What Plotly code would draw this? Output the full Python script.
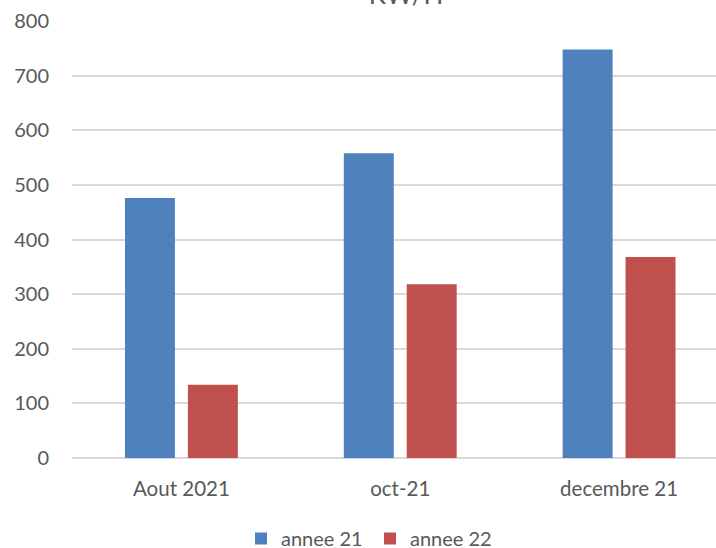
import plotly.graph_objects as go

categories = ["Aout 2021", "oct-21", "decembre 21"]
annee21 = [476, 558, 748]
annee22 = [134, 318, 368]
series_names = ["annee 21", "annee 22"]
y_ticks = [0, 100, 200, 300, 400, 500, 600, 700, 800]

W, H = 716, 548
FONT = "Lato"
GREY = "#595959"

fig = go.Figure()
fig.add_trace(go.Bar(x=categories, y=annee21, name=series_names[0],
                     marker=dict(color="#4F81BD", line=dict(width=0))))
fig.add_trace(go.Bar(x=categories, y=annee22, name=series_names[1],
                     marker=dict(color="#C0504D", line=dict(width=0))))

left_px, right_full_px = 71.5, 728.5
cat_w = (right_full_px - left_px) / 3
x_hi = 2.5 - (right_full_px - W) / cat_w

fig.update_layout(
    width=W, height=H,
    margin=dict(l=left_px, r=0, t=20.7, b=H - 458.3, pad=0),
    paper_bgcolor="white", plot_bgcolor="white",
    font=dict(family=FONT, size=20, color=GREY),
    barmode="group", bargap=0.425, bargroupgap=0.206,
    title=dict(text="KW/H", font=dict(family=FONT, size=26, color=GREY),
               x=406 / W, xanchor="center", xref="container",
               y=1 - 4 / H, yanchor="bottom", yref="container"),
    showlegend=True,
    legend=dict(orientation="h", xref="container", yref="container",
                x=241 / W, xanchor="left", y=1 - 519 / H, yanchor="top",
                font=dict(family=FONT, size=20, color=GREY),
                entrywidth=84, entrywidthmode="pixels",
                bgcolor="rgba(0,0,0,0)"),
    xaxis=dict(range=[-0.5, x_hi], showgrid=False, showline=False,
               ticks="", ticklabelstandoff=16, tickfont=dict(size=20.5, color=GREY),
               zeroline=False),
    yaxis=dict(range=[0, 800], tickvals=y_ticks, showgrid=True,
               gridcolor="#D9D9D9", gridwidth=1.5, zeroline=True,
               zerolinecolor="#D9D9D9", zerolinewidth=1.5, showline=False,
               ticks="", ticklabelstandoff=22, tickfont=dict(size=20, color=GREY)),
)

fig.write_html("out.html", config={"displayModeBar": False},
               post_script="document.body.style.margin='0';document.body.style.overflow='hidden';")
